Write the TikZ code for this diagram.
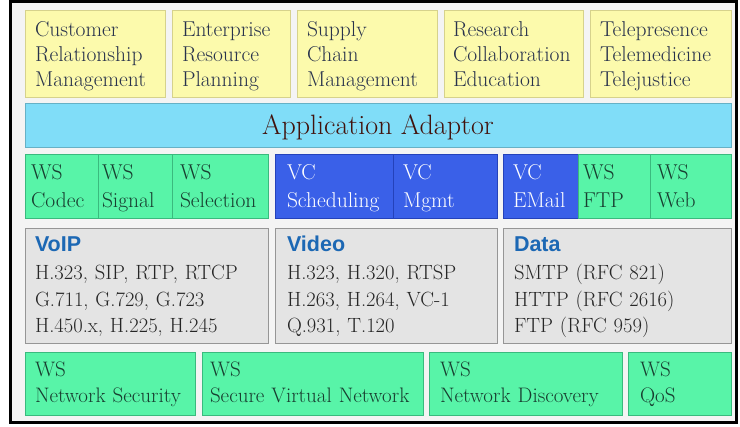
\documentclass[tikz,border=0pt]{standalone}
\usepackage{fontspec}
\newfontfamily\titlefont{Liberation Sans}
\usepackage{tikz}
\usetikzlibrary{positioning, shadows}

\definecolor{fondo}{RGB}{244,244,244}
\definecolor{amarillo}{RGB}{252,250,172}
\definecolor{amarilloborde}{RGB}{214,210,140}
\definecolor{celeste}{RGB}{128,221,248}
\definecolor{verde}{RGB}{88,244,168}
\definecolor{verdeborde}{RGB}{58,186,126}
\definecolor{azul}{RGB}{58,96,232}
\definecolor{azulborde}{RGB}{36,66,186}
\definecolor{gris}{RGB}{228,228,228}
\definecolor{grisborde}{RGB}{150,150,150}
\definecolor{textoazul}{RGB}{40,50,76}
\definecolor{textoverde}{RGB}{24,62,48}
\definecolor{textogris}{RGB}{38,38,38}
\definecolor{marron}{RGB}{66,18,12}
\definecolor{titulo}{RGB}{28,104,180}

\begin{document}
\begin{tikzpicture}[x=1pt, y=-1pt, node distance=7pt]
        % Definición de estilos para los bloques
        \tikzstyle{block} = [draw, rectangle, anchor=north west, align=left, inner xsep=10pt, inner ysep=0pt, outer sep=0pt, line width=0.6pt, drop shadow={shadow xshift=1.2pt, shadow yshift=-1.2pt, fill=black!60, opacity=0.4}]
        \tikzstyle{app} = [block, fill=amarillo, draw=amarilloborde, text=textoazul, text height=27pt, text depth=60pt, font=\fontsize{21.5}{25}\selectfont]
        \tikzstyle{adaptor} = [block, fill=celeste, draw=celeste!80!black, text=marron, text height=32pt, text depth=12pt, inner xsep=0pt, font=\fontsize{28}{30}\selectfont]
        \tikzstyle{ws} = [block, fill=verde, draw=verdeborde, text=textoverde, text height=26pt, text depth=38pt, font=\fontsize{21.5}{27.5}\selectfont]
        \tikzstyle{vc} = [ws, fill=azul, draw=azulborde, text=white]
        \tikzstyle{proto} = [block, fill=gris, draw=grisborde, text=textogris, text height=24pt, text depth=91pt, font=\fontsize{20.6}{26.5}\selectfont]
        \tikzstyle{net} = [ws, text height=25pt, text depth=38pt, font=\fontsize{21}{26}\selectfont]
        \newcommand{\prototitle}[1]{{\color{titulo}\titlefont\bfseries\fontsize{21.5}{24}\selectfont #1}}

        \useasboundingbox (0,0) rectangle (740,427);
        \draw [line width=3pt, fill=fondo] (10,2) rectangle (736,423);

        % Aplicaciones
        \node [app, text width=120pt] at (25,10) (crm) {Customer\\Relationship\\Management};
        \node [app, text width=98pt, right=of crm] (erp) {Enterprise\\Resource\\Planning};
        \node [app, text width=120pt, right=of erp] (scm) {Supply\\Chain\\Management};
        \node [app, inner xsep=9pt, text width=121pt, right=of scm] (research) {Research\\Collaboration\\Education};
        \node [app, text width=121pt, right=of research] (tele) {Telepresence\\Telemedicine\\Telejustice};

        % Adaptador
        \node [adaptor, minimum width=706pt] at (25,103) (adaptor) {Application Adaptor};

        % Servicios
        \node [ws, inner xsep=6pt, text width=61pt] at (25,154) (codec) {WS\\Codec};
        \node [ws, inner xsep=4pt, text width=66pt, right=0pt of codec] (signal) {WS\\Signal};
        \node [ws, inner xsep=8pt, text width=80pt, right=0pt of signal] (selection) {WS\\Selection};
        \node [vc, inner xsep=12pt, text width=94pt, right=of selection] (scheduling) {VC\\Scheduling};
        \node [vc, text width=84pt, right=0pt of scheduling] (mgmt) {VC\\Mgmt};
        \node [vc, inner xsep=10pt, text width=55pt, right=6pt of mgmt] (email) {VC\\EMail};
        \node [ws, inner xsep=5pt, text width=62pt, right=0pt of email] (ftp) {WS\\FTP};
        \node [ws, inner xsep=7pt, text width=67pt, right=0pt of ftp] (web) {WS\\Web};

        % Protocolos
        \node [proto, text width=223pt] at (25,228) (voip) {\prototitle{VoIP}\\[1.5pt]H.323, SIP, RTP, RTCP\\G.711, G.729, G.723\\H.450.x, H.225, H.245};
        \node [proto, inner xsep=12pt, text width=198pt, right=of voip] (video) {\prototitle{Video}\\[1.5pt]H.323, H.320, RTSP\\H.263, H.264, VC-1\\Q.931, T.120};
        \node [proto, inner xsep=11pt, text width=206pt, right=6pt of video] (data) {\prototitle{Data}\\[1.5pt]SMTP (RFC 821)\\HTTP (RFC 2616)\\FTP (RFC 959)};

        % Red
        \node [net, text width=150pt] at (25,352) (security) {WS\\Network Security};
        \node [net, inner xsep=8pt, text width=205pt, right=of security] (svn) {WS\\Secure Virtual Network};
        \node [net, inner xsep=11pt, text width=171pt, right=6pt of svn] (discovery) {WS\\Network Discovery};
        \node [net, inner xsep=12pt, text width=79pt, right=6pt of discovery] (qos) {WS\\QoS};

      \end{tikzpicture}
\end{document}
